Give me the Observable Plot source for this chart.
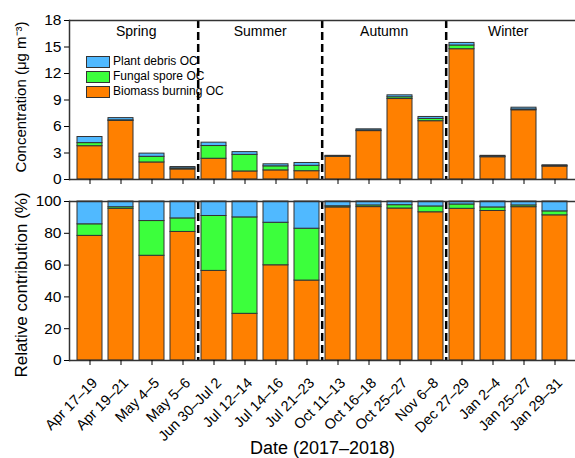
<!DOCTYPE html>
<html><head><meta charset="utf-8">
<script src="https://cdn.jsdelivr.net/npm/d3@7"></script>
<script src="https://cdn.jsdelivr.net/npm/@observablehq/plot@0.6"></script>
<style>
body{margin:0;background:#fff;}
#wrap{position:relative;width:575px;height:458px;font-family:"Liberation Sans",Arial,sans-serif;overflow:hidden;background:#fff}
#top,#bottom{position:absolute;left:0}
#top{top:0}
#bottom{top:185px}
.legend{position:absolute;left:86px;top:54px;font-size:12px;line-height:15px;color:#000}
.legend div{display:flex;align-items:center;height:15px}
.legend .sw{display:inline-block;width:24px;height:12px;border:1px solid #333;margin-right:3px;box-sizing:border-box}
</style></head><body>
<div id="wrap"><div id="top"></div><div id="bottom"></div><div class="legend" id="legend"></div></div>
<script>
const dates = ["Apr 17–19","Apr 19–21","May 4–5","May 5–6","Jun 30–Jul 2","Jul 12–14","Jul 14–16","Jul 21–23","Oct 11–13","Oct 16–18","Oct 25–27","Nov 6–8","Dec 27–29","Jan 2–4","Jan 25–27","Jan 29–31"];
const biomass = [3.77,6.63,1.93,1.14,2.35,0.91,1.03,0.94,2.58,5.48,9.11,6.60,14.75,2.52,7.84,1.47];
const fungal  = [0.35,0.07,0.64,0.12,1.44,1.88,0.46,0.61,0.02,0.06,0.20,0.26,0.42,0.06,0.09,0.04];
const plant   = [0.69,0.25,0.36,0.15,0.38,0.31,0.23,0.32,0.08,0.14,0.22,0.22,0.29,0.10,0.20,0.10];
const seasons = ["Spring","Summer","Autumn","Winter"];
const components = ["Biomass burning OC","Fungal spore OC","Plant debris OC"];
const colors = ["#FF8000","#3CFF3C","#50B9FF"];
const concTicks = [0,3,6,9,12,15,18];
const pctTicks = [0,20,40,60,80,100];

const rows = [];
dates.forEach((d,i)=>{
  rows.push({date:d, comp:components[0], value:biomass[i]});
  rows.push({date:d, comp:components[1], value:fungal[i]});
  rows.push({date:d, comp:components[2], value:plant[i]});
});

const W = 575, ML = 69, MR = 0;
const step = (W - ML - MR) / dates.length;
const font = "'Liberation Sans', Arial, sans-serif";
const xScale = {domain: dates, paddingInner: 0.2, paddingOuter: 0.1};
const color = {domain: components, range: colors};
const boundaries = [dates[4], dates[8], dates[12]];
const seasonPos = seasons.map((s,i)=>({season:s, date:dates[4*i+2]}));
const style = {fontFamily: font, fontSize: "15.5px", color: "#000", background: "transparent", overflow: "visible"};
const dash = {x: d=>d, dx: -step/2, stroke: "#000", strokeWidth: 2.5, strokeDasharray: "8,4"};

const topPlot = Plot.plot({
  width: W, height: 185, marginTop: 20, marginBottom: 6, marginLeft: ML, marginRight: MR,
  style,
  x: {...xScale, axis: null},
  y: {domain: [0,18], axis: null},
  color,
  marks: [
    Plot.barY(rows, {x: "date", y: "value", fill: "comp", stroke: "#333", strokeWidth: 1}),
    Plot.ruleX(boundaries, dash),
    Plot.text(seasonPos, {x: "date", dx: -step/2, text: "season", frameAnchor: "top", dy: 6, fontSize: 14}),
    Plot.ruleY([0, 18], {stroke: "#333", strokeWidth: 1.5}),
    Plot.frame({anchor: "left", stroke: "#333", strokeWidth: 1.5}),
    Plot.axisY({ticks: concTicks, tickSize: 5, tickPadding: 3, label: null}),
    Plot.axisX({tickSize: 5, tickFormat: () => "", label: null}),
    Plot.text(["Concentration (μg m⁻³)"], {frameAnchor: "left", textAnchor: "middle", dx: -48, dy: -3, rotate: -90, fontSize: 15})
  ]
});
document.getElementById("top").appendChild(topPlot);

const bottomPlot = Plot.plot({
  width: W, height: 273, marginTop: 16, marginBottom: 98, marginLeft: ML, marginRight: MR,
  style,
  x: {...xScale, axis: null},
  y: {domain: [0,1], axis: null},
  color,
  marks: [
    Plot.barY(rows, {x: "date", y: "value", fill: "comp", stroke: "#333", strokeWidth: 1, offset: "normalize"}),
    Plot.ruleX(boundaries, dash),
    Plot.ruleY([0, 1], {stroke: "#333", strokeWidth: 1.5}),
    Plot.frame({anchor: "left", stroke: "#333", strokeWidth: 1.5}),
    Plot.axisY({ticks: pctTicks.map(v=>v/100), tickFormat: d => Math.round(d*100), tickSize: 5, tickPadding: 3, label: null}),
    Plot.axisX({tickSize: 5, tickFormat: () => "", label: null}),
    Plot.axisX({tickSize: 0, tickRotate: -45, tickPadding: 8, label: null, fontSize: 14.5, dx: 5, dy: 12}),
    Plot.text(["Relative contribution (%)"], {frameAnchor: "left", textAnchor: "middle", dx: -48, dy: 4, rotate: -90, fontSize: 17}),
    Plot.text(["Date (2017–2018)"], {frameAnchor: "bottom", dy: 93, fontSize: 18})
  ]
});
document.getElementById("bottom").appendChild(bottomPlot);

const legend = document.getElementById("legend");
[2,1,0].forEach(i => {
  const row = document.createElement("div");
  const sw = document.createElement("span");
  sw.className = "sw"; sw.style.background = colors[i];
  row.appendChild(sw);
  row.appendChild(document.createTextNode(components[i]));
  legend.appendChild(row);
});
</script>
</body></html>
